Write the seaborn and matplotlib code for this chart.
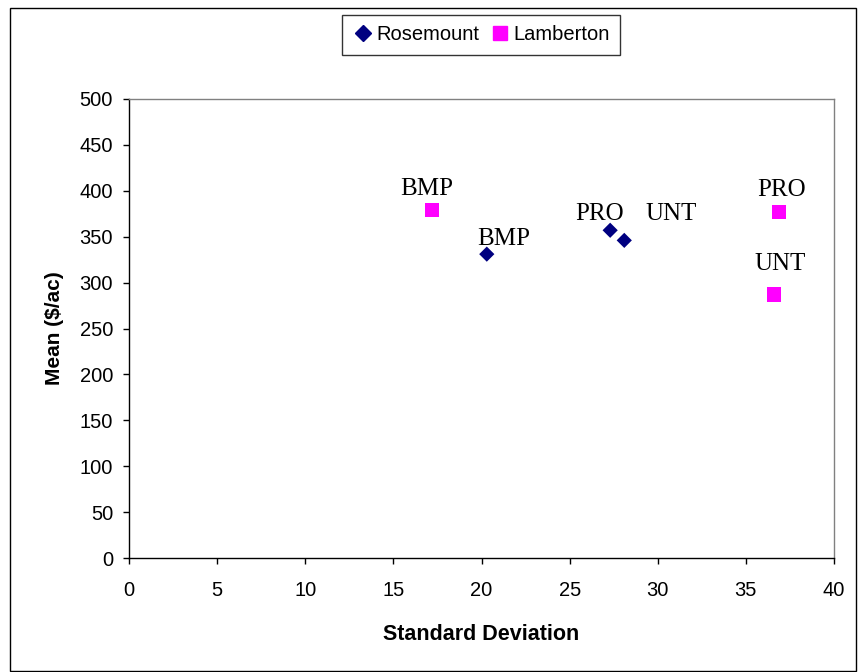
import seaborn as sns
import matplotlib.pyplot as plt
import pandas as pd
from matplotlib.patches import Rectangle

# values
sites = ['Rosemount', 'Rosemount', 'Rosemount', 'Lamberton', 'Lamberton', 'Lamberton']
systems = ['BMP', 'PRO', 'UNT', 'BMP', 'PRO', 'UNT']
std_dev = [20.3, 27.3, 28.1, 17.2, 36.9, 36.6]
mean_val = [331, 357, 346, 379, 377, 287]
# label offsets in pixels (dx, dy) relative to each point
label_dx = [17, -11, 47, -5, 2, 6]
label_dy = [15, 16, 26, 21, 22, 31]


def generate_plot(df):
    sns.set_theme(style='white')
    plt.rcParams['font.family'] = ['Liberation Sans', 'DejaVu Sans']
    plt.rcParams['text.color'] = 'black'
    plt.rcParams['axes.labelcolor'] = 'black'
    plt.rcParams['xtick.color'] = 'black'
    plt.rcParams['ytick.color'] = 'black'
    fig = plt.figure(figsize=(8.58, 6.72), dpi=100)
    ax = fig.add_axes([129 / 858, 1 - 558 / 672, 705 / 858, 459 / 672])

    sns.scatterplot(data=df, x='sd', y='mean', hue='site', style='site',
                    palette={'Rosemount': '#000080', 'Lamberton': '#FF00FF'},
                    markers={'Rosemount': 'D', 'Lamberton': 's'},
                    s=80, edgecolor='none', ax=ax, legend=False, zorder=3)
    ax.collections[0].set_sizes([60 if s == 'Rosemount' else 105 for s in df['site']])

    for _, r in df.iterrows():
        ax.annotate(r['system'], (r['sd'], r['mean']),
                    xytext=(r['dx'] * 0.72, r['dy'] * 0.72), textcoords='offset points',
                    ha='center', va='center', fontsize=18, family='Liberation Serif')

    ax.set_xlim(0, 40)
    ax.set_ylim(0, 500)
    ax.set_xticks(range(0, 41, 5))
    ax.set_yticks(range(0, 501, 50))
    ax.tick_params(axis='both', which='both', direction='out', length=4.5, width=1,
                   color='black', labelsize=14.5, left=True, bottom=True)
    ax.tick_params(axis='x', pad=12)
    ax.tick_params(axis='y', pad=7)
    for side in ['top', 'right']:
        ax.spines[side].set_color('#808080')
    for side in ['left', 'bottom']:
        ax.spines[side].set_color('black')
    for sp in ax.spines.values():
        sp.set_linewidth(1)
    ax.set_xlabel('Standard Deviation', fontsize=15.5, fontweight='bold', labelpad=17)
    ax.set_ylabel('Mean ($/ac)', fontsize=15, fontweight='bold', labelpad=11)

    # legend
    h1 = plt.Line2D([], [], marker='D', color='#000080', linestyle='none', markersize=8)
    h2 = plt.Line2D([], [], marker='s', color='#FF00FF', linestyle='none', markersize=10)
    leg = fig.legend([h1, h2], ['Rosemount', 'Lamberton'], loc='center',
                     bbox_to_anchor=(481 / 858, 1 - 35 / 672), ncol=2, fontsize=14.5,
                     frameon=True, fancybox=False, edgecolor='black', handletextpad=0.1,
                     columnspacing=0.5, borderpad=0.5, handlelength=1.1)
    leg.get_frame().set_linewidth(1)

    # outer chart border
    fig.patches.append(Rectangle((10 / 858, 0.002), 846 / 858, 1 - 8 / 672 - 0.002,
                                 transform=fig.transFigure, fill=False,
                                 edgecolor='black', linewidth=1))
    fig.savefig('out.png', dpi=100)


def main():
    df = pd.DataFrame({'site': sites, 'system': systems, 'sd': std_dev,
                       'mean': mean_val, 'dx': label_dx, 'dy': label_dy})
    generate_plot(df)


if __name__ == '__main__':
    main()
